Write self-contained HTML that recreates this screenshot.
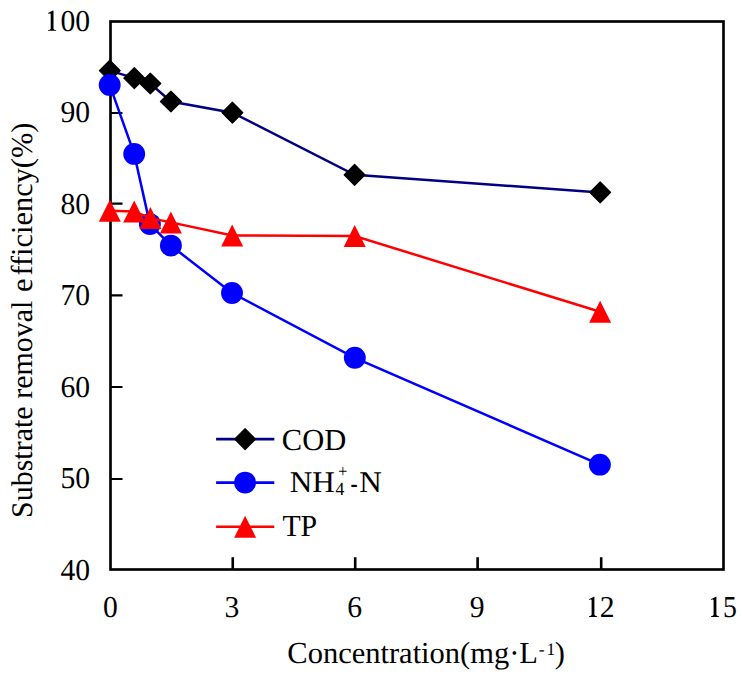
<!DOCTYPE html><html><head><meta charset="utf-8"><style>html,body{margin:0;padding:0;background:#fff;}svg{display:block;}text{font-family:"Liberation Serif",serif;fill:#000;text-rendering:geometricPrecision;}</style></head><body>
<svg width="742" height="674" viewBox="0 0 742 674">
<rect width="742" height="674" fill="#fff"/>
<rect x="110.5" y="21.5" width="613" height="548" fill="none" stroke="#000" stroke-width="2.65"/>
<path d="M110.5,113H122.5 M110.5,203.6H122.5 M110.5,295.4H122.5 M110.5,387H122.5 M110.5,479H122.5" stroke="#000" stroke-width="2.2" fill="none"/>
<path d="M232.75,569.5V557.2 M355.2,569.5V557.2 M477.6,569.5V557.2 M601.2,569.5V557.2" stroke="#000" stroke-width="2.6" fill="none"/>
<path d="M48.10,30.80L56.20,30.80L56.20,30.05C54.20,29.90 53.50,29.50 53.50,28.20L53.50,10.60L52.95,10.60L48.00,13.10L48.25,13.80C49.50,13.30 50.70,13.20 50.70,14.50L50.70,28.20C50.70,29.50 50.00,29.90 48.10,30.05Z" fill="#000"/>
<text transform="translate(60.46,30.8) scale(0.975,1.0)" font-size="30.4">00</text>
<text transform="translate(90.1,122.0) scale(0.975,1.0)" font-size="30.4" text-anchor="end">90</text>
<text transform="translate(90.1,213.9) scale(0.975,1.0)" font-size="30.4" text-anchor="end">80</text>
<text transform="translate(90.1,305.0) scale(0.975,1.0)" font-size="30.4" text-anchor="end">70</text>
<text transform="translate(90.1,397.0) scale(0.975,1.0)" font-size="30.4" text-anchor="end">60</text>
<text transform="translate(90.1,488.4) scale(0.975,1.0)" font-size="30.4" text-anchor="end">50</text>
<text transform="translate(90.1,579.6) scale(0.975,1.0)" font-size="30.4" text-anchor="end">40</text>
<text transform="translate(110.4,616.9) scale(0.975,1.0)" font-size="30.4" text-anchor="middle">0</text>
<text transform="translate(231.9,616.9) scale(0.975,1.0)" font-size="30.4" text-anchor="middle">3</text>
<text transform="translate(354.6,616.9) scale(0.975,1.0)" font-size="30.4" text-anchor="middle">6</text>
<text transform="translate(477.25,616.9) scale(0.975,1.0)" font-size="30.4" text-anchor="middle">9</text>
<path d="M589.00,616.90L597.10,616.90L597.10,616.15C595.10,616.00 594.40,615.60 594.40,614.30L594.40,596.70L593.85,596.70L588.90,599.20L589.15,599.90C590.40,599.40 591.60,599.30 591.60,600.60L591.60,614.30C591.60,615.60 590.90,616.00 589.00,616.15Z" fill="#000"/>
<text transform="translate(599.8,616.9) scale(0.975,1.0)" font-size="30.4">2</text>
<path d="M711.00,616.90L719.10,616.90L719.10,616.15C717.10,616.00 716.40,615.60 716.40,614.30L716.40,596.70L715.85,596.70L710.90,599.20L711.15,599.90C712.40,599.40 713.60,599.30 713.60,600.60L713.60,614.30C713.60,615.60 712.90,616.00 711.00,616.15Z" fill="#000"/>
<text transform="translate(722.9,616.9) scale(0.91,1.0)" font-size="30.4">5</text>
<polyline points="109.8,70.6 134.3,78.1 150.3,83.5 170.9,101.5 232.4,112.7 354.6,174.8 600.2,192.4" fill="none" stroke="#000080" stroke-width="2.5"/>
<g fill="#000" stroke="#000" stroke-width="1.2" stroke-linejoin="round"><path d="M109.80,60.15L120.25,70.60L109.80,81.05L99.35,70.60Z"/><path d="M134.30,67.65L144.75,78.10L134.30,88.55L123.85,78.10Z"/><path d="M150.30,73.05L160.75,83.50L150.30,93.95L139.85,83.50Z"/><path d="M170.90,91.05L181.35,101.50L170.90,111.95L160.45,101.50Z"/><path d="M232.40,102.25L242.85,112.70L232.40,123.15L221.95,112.70Z"/><path d="M354.60,164.35L365.05,174.80L354.60,185.25L344.15,174.80Z"/><path d="M600.20,181.95L610.65,192.40L600.20,202.85L589.75,192.40Z"/></g>
<polyline points="109.7,84.9 134.2,153.9 149.9,224.1 170.9,245.6 232.0,293.0 354.8,357.8 599.9,464.65" fill="none" stroke="#0000ff" stroke-width="2.5"/>
<g fill="#0000ff"><circle cx="109.7" cy="84.9" r="10.95"/><circle cx="134.2" cy="153.9" r="10.95"/><circle cx="149.9" cy="224.1" r="10.95"/><circle cx="170.9" cy="245.6" r="10.95"/><circle cx="232.0" cy="293.0" r="10.95"/><circle cx="354.8" cy="357.8" r="10.95"/><circle cx="599.9" cy="464.65" r="10.95"/></g>
<polyline points="109.8,210.8 134.2,211.4 150.4,218.1 170.9,222.4 232.2,235.4 354.7,236.0 600.1,311.8" fill="none" stroke="#ff0000" stroke-width="2.5"/>
<g fill="#ff0000"><path d="M109.80,199.80L120.80,221.80L98.80,221.80Z"/><path d="M134.20,200.40L145.20,222.40L123.20,222.40Z"/><path d="M150.40,207.10L161.40,229.10L139.40,229.10Z"/><path d="M170.90,211.40L181.90,233.40L159.90,233.40Z"/><path d="M232.20,224.40L243.20,246.40L221.20,246.40Z"/><path d="M354.70,225.00L365.70,247.00L343.70,247.00Z"/><path d="M600.10,300.80L611.10,322.80L589.10,322.80Z"/></g>
<path d="M216.1,439.1H274.3" stroke="#000080" stroke-width="2.6"/>
<g fill="#000" stroke="#000" stroke-width="1.2" stroke-linejoin="round"><path d="M245.10,428.65L255.55,439.10L245.10,449.55L234.65,439.10Z"/></g>
<path d="M216.1,482.6H274.3" stroke="#0000ff" stroke-width="2.6"/>
<g fill="#0000ff"><circle cx="245.1" cy="482.6" r="10.95"/></g>
<path d="M216.1,526.7H274.3" stroke="#ff0000" stroke-width="2.6"/>
<g fill="#ff0000"><path d="M245.10,515.70L256.10,537.70L234.10,537.70Z"/></g>
<text transform="translate(281.8,449.8) scale(1.0,1.0)" font-size="30.5">COD</text>
<text transform="translate(289.8,491.7) scale(1.04,1.0)" font-size="30">NH</text>
<text transform="translate(335.6,494.7) scale(0.95,1.0)" font-size="18.6">4</text>
<text transform="translate(338.3,476.9) scale(0.92,1.0)" font-size="17.5">+</text>
<text transform="translate(350.45,492.6) scale(0.71,1.0)" font-size="30">-</text>
<text transform="translate(359.2,491.7) scale(1.04,1.0)" font-size="30">N</text>
<text transform="translate(282.4,535.9) scale(0.975,1.0)" font-size="30.6">TP</text>
<text transform="translate(287.3,662.8) scale(1.0,1.0)" font-size="30.5">Concentration(mg·L</text>
<text transform="translate(538.8,655.0) scale(1.0,1.0)" font-size="17.4">-</text>
<text transform="translate(546.6,655.0) scale(1.0,1.0)" font-size="17.4">1</text>
<text transform="translate(554.8,662.8) scale(1.0,1.0)" font-size="30.5">)</text>
<text transform="translate(32.1,518.0) rotate(-90)" font-size="30">Substrate removal</text>
<text transform="translate(32.1,291.9) rotate(-90)" font-size="30.4">e</text>
<text transform="translate(32.1,275.6) rotate(-90)" font-size="30.4">fficiency(%)</text>
</svg></body></html>
